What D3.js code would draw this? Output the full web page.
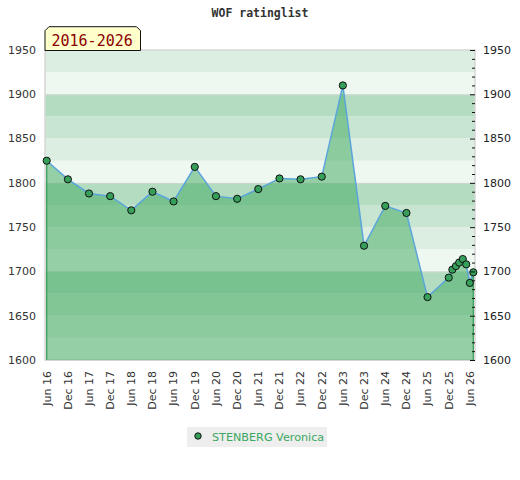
<!DOCTYPE html>
<html>
<head>
<meta charset="utf-8">
<script src="https://cdn.jsdelivr.net/npm/d3@7"></script>
<style>
  html, body { margin: 0; padding: 0; background: #ffffff; }
  svg { display: block; }
</style>
</head>
<body>
<div id="chart"></div>
<script>
// ---- data ----
const title = "WOF ratinglist";
const periodLabel = "2016-2026";
const seriesName = "STENBERG Veronica";
const dates = [
  "2016-06-01","2016-12-01","2017-06-01","2017-12-01","2018-06-01","2018-12-01",
  "2019-06-01","2019-12-01","2020-06-01","2020-12-01","2021-06-01","2021-12-01",
  "2022-06-01","2022-12-01","2023-06-01","2023-12-01","2024-06-01","2024-12-01",
  "2025-06-01","2025-12-01","2026-01-01","2026-02-01","2026-03-01","2026-04-01",
  "2026-05-01","2026-06-01","2026-07-01"
];
const ratings = [
  1825, 1804, 1788, 1785, 1769, 1790,
  1779, 1818, 1785, 1782, 1793, 1805,
  1804, 1807, 1910, 1729, 1774, 1766,
  1671, 1693, 1702, 1706, 1710, 1714,
  1708, 1687, 1699
];
const xTickLabels = [
  "Jun 16","Dec 16","Jun 17","Dec 17","Jun 18","Dec 18","Jun 19","Dec 19",
  "Jun 20","Dec 20","Jun 21","Dec 21","Jun 22","Dec 22","Jun 23","Dec 23",
  "Jun 24","Dec 24","Jun 25","Dec 25","Jun 26"
];
const yTicks = [1600, 1650, 1700, 1750, 1800, 1850, 1900, 1950];
const yDomain = [1600, 1950];
const xDomain = ["2016-06-01", "2026-07-01"];

// ---- layout ----
const W = 520, H = 480;
const plot = { left: 45, right: 475, top: 50, bottom: 360 };
const parse = d3.timeParse("%Y-%m-%d");
const data = dates.map((d, i) => ({ date: parse(d), v: ratings[i] }));

const svg = d3.select("#chart").append("svg")
  .attr("width", W).attr("height", H)
  .attr("font-family", "DejaVu Sans, sans-serif");

const x = d3.scaleTime().domain(xDomain.map(parse)).range([46.7, 473.3]);
const y = d3.scaleLinear().domain(yDomain).range([plot.bottom, plot.top]);

// title
svg.append("text")
  .attr("x", 260).attr("y", 17)
  .attr("text-anchor", "middle")
  .attr("font-family", "DejaVu Sans Mono, monospace")
  .attr("font-weight", "bold")
  .attr("font-size", 11.5)
  .attr("fill", "#333")
  .text(title);

// background bands (25-unit steps)
const bandColors = ["#b3dcc0", "#eff7f1", "#dbeee1", "#c8e5d1"];
const bandStops = d3.range(yDomain[0], yDomain[1], 25);
svg.append("g").selectAll("rect").data(bandStops).join("rect")
  .attr("x", plot.left)
  .attr("width", plot.right - plot.left)
  .attr("y", d => y(d + 25))
  .attr("height", d => y(d) - y(d + 25))
  .attr("fill", d => {
    const k = ((d + 25 - yDomain[0]) / 25) % 4;
    return ["#b3dcc0", "#eff7f1", "#dbeee1", "#c8e5d1"][k];
  });

// faint grid lines
svg.append("g").selectAll("line").data(yTicks).join("line")
  .attr("x1", plot.left).attr("x2", plot.right)
  .attr("y1", d => y(d) + 0.5).attr("y2", d => y(d) + 0.5)
  .attr("stroke", d => (d % 100 === 0 ? "#cfd6d1" : "#e4ece6"))
  .attr("stroke-width", 1);

// frame
svg.append("rect")
  .attr("x", plot.left).attr("y", plot.top)
  .attr("width", plot.right - plot.left).attr("height", plot.bottom - plot.top)
  .attr("fill", "none").attr("stroke", "#d6d6d6").attr("stroke-width", 1.5);

// area
const area = d3.area()
  .x(d => x(d.date))
  .y0(y(yDomain[0]))
  .y1(d => y(d.v));
svg.append("path").datum(data)
  .attr("d", area)
  .attr("fill", "rgba(60,168,92,0.5)");

// side edges of the area
const first = data[0], last = data[data.length - 1];
[first, last].forEach(d => {
  svg.append("line")
    .attr("x1", x(d.date)).attr("x2", x(d.date))
    .attr("y1", y(d.v)).attr("y2", y(yDomain[0]))
    .attr("stroke", "#3c9e5b").attr("stroke-width", 1.3);
});

// line
const line = d3.line().x(d => x(d.date)).y(d => y(d.v));
svg.append("path").datum(data)
  .attr("d", line)
  .attr("fill", "none")
  .attr("stroke", "#5aa5dc")
  .attr("stroke-width", 1.5);

// points
svg.append("g").selectAll("circle").data(data).join("circle")
  .attr("cx", d => x(d.date)).attr("cy", d => y(d.v))
  .attr("r", 3.6)
  .attr("fill", "#36a05b")
  .attr("stroke", "#111")
  .attr("stroke-width", 1);

// left axis labels
svg.append("g").selectAll("text").data(yTicks).join("text")
  .attr("x", 36).attr("y", d => y(d))
  .attr("dy", "0.35em")
  .attr("text-anchor", "end")
  .attr("font-size", 11)
  .attr("fill", "#333")
  .text(d => d);

// right axis ticks + labels
const minorTicks = d3.range(yDomain[0], yDomain[1] + 1, 10);
svg.append("g").selectAll("line").data(minorTicks).join("line")
  .attr("x1", d => (d % 50 === 0 ? 470 : 472))
  .attr("x2", 475)
  .attr("y1", d => y(d) + 0.5).attr("y2", d => y(d) + 0.5)
  .attr("stroke", "#111").attr("stroke-width", 1);
svg.append("g").selectAll("text").data(yTicks).join("text")
  .attr("x", 483).attr("y", d => y(d))
  .attr("dy", "0.35em")
  .attr("text-anchor", "start")
  .attr("font-size", 11)
  .attr("fill", "#222")
  .text(d => d);

// x axis labels
const xTickDates = xTickLabels.map(s => d3.timeParse("%b %y")(s));
svg.append("g").selectAll("text").data(xTickLabels).join("text")
  .attr("transform", (s, i) => `translate(${x(xTickDates[i])},371) rotate(-90)`)
  .attr("dy", "0.35em")
  .attr("text-anchor", "end")
  .attr("font-size", 11)
  .attr("fill", "#333")
  .text(s => s);

// period label box
const bx0 = 45, bx1 = 140.5, by0 = 26.7, by1 = 50.5, c = 4;
svg.append("path")
  .attr("d", `M${bx0},${by1} L${bx0},${by0 + c} L${bx0 + c},${by0} L${bx1 - c},${by0} L${bx1},${by0 + c} L${bx1},${by1} Z`)
  .attr("fill", "#ffffcc").attr("stroke", "#111").attr("stroke-width", 1);
svg.append("text")
  .attr("x", 51.5).attr("y", 45.5)
  .attr("font-family", "DejaVu Sans Mono, monospace")
  .attr("font-size", 15)
  .attr("fill", "#8b0000")
  .text(periodLabel);

// legend
svg.append("rect")
  .attr("x", 187).attr("y", 427).attr("width", 140).attr("height", 20)
  .attr("fill", "#eeeeee");
svg.append("circle")
  .attr("cx", 198).attr("cy", 436).attr("r", 3.2)
  .attr("fill", "#36a05b").attr("stroke", "#111").attr("stroke-width", 1);
svg.append("text")
  .attr("x", 212).attr("y", 440.5)
  .attr("font-size", 11.2)
  .attr("fill", "#3aa85f")
  .text(seriesName);
</script>
</body>
</html>
